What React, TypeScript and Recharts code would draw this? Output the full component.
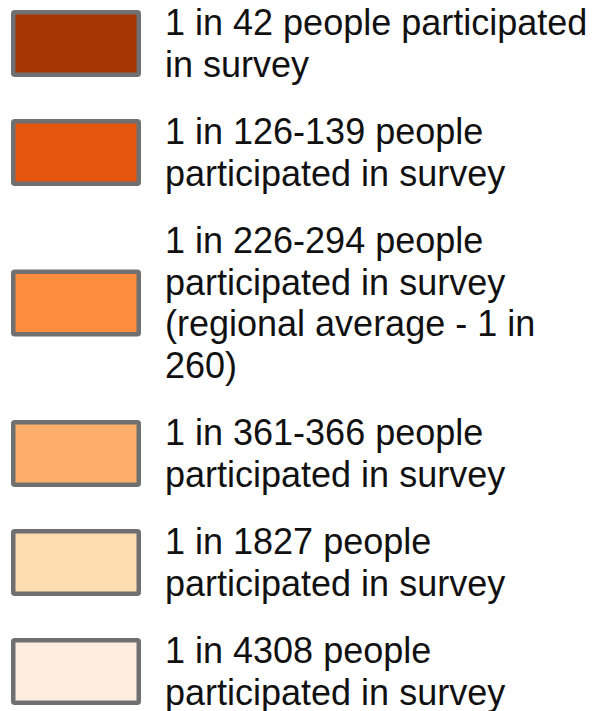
import { BarChart, Bar, Legend } from 'recharts';

const classKeys = ['c42', 'c126', 'c226', 'c361', 'c1827', 'c4308'];
const classFloor = [42, 126, 226, 361, 1827, 4308];
const classColors = ['#a63603', '#e6550d', '#fd8d3c', '#fdae6b', '#fddcb0', '#feedde'];
const classLabels = [
  ['1 in 42 people participated', 'in survey'],
  ['1 in 126-139 people', 'participated in survey'],
  ['1 in 226-294 people', 'participated in survey', '(regional average - 1 in', '260)'],
  ['1 in 361-366 people', 'participated in survey'],
  ['1 in 1827 people', 'participated in survey'],
  ['1 in 4308 people', 'participated in survey'],
];

const data = [
  Object.fromEntries([['name', 'participation'], ...classKeys.map((k, i) => [k, classFloor[i]])]),
];

const W = 597;
const H = 711;
const LINE_H = 41.7;
const ROW_GAP = 25.5;
const FIRST_BASE = 35;

function LegendBoxes({ payload }: any) {
  // keep the class order, not the legend's default sort
  const items = [...(payload || [])].sort(
    (a: any, b: any) => classKeys.indexOf(a.dataKey) - classKeys.indexOf(b.dataKey)
  );
  let base = FIRST_BASE;
  const rows = items.map((entry: any) => {
    const i = classKeys.indexOf(entry.dataKey);
    const lines: string[] = classLabels[i] || [String(entry.value)];
    const boxTop = base - 25 + ((lines.length - 2) * LINE_H) / 2;
    const row = (
      <g key={entry.dataKey}>
        <rect
          x={13.25}
          y={boxTop + 2.25}
          width={125.5}
          height={62.5}
          rx={1.5}
          fill={entry.color || classColors[i]}
          stroke="#707070"
          strokeWidth={4.5}
        />
        <text
          x={165}
          y={base}
          fontFamily="'Liberation Sans', Arial, sans-serif"
          fontSize={36}
          fill="#111"
        >
          {lines.map((ln, j) => (
            <tspan key={j} x={165} y={base + j * LINE_H}>
              {ln}
            </tspan>
          ))}
        </text>
      </g>
    );
    base += lines.length * LINE_H + ROW_GAP;
    return row;
  });
  return (
    <svg width={W} height={H} style={{ display: 'block' }}>
      {rows}
    </svg>
  );
}

export default function App() {
  return (
    <div style={{ width: W, height: H }}>
      <style>{'body { margin: 0; }'}</style>
      <BarChart width={W} height={H} data={data} margin={{ top: 0, right: 0, bottom: 0, left: 0 }}>
        {classKeys.map((k, i) => (
          <Bar
            key={k}
            dataKey={k}
            name={classLabels[i].join(' ')}
            fill={classColors[i]}
            hide
            isAnimationActive={false}
          />
        ))}
        <Legend
          layout="vertical"
          verticalAlign="top"
          align="left"
          content={LegendBoxes}
          wrapperStyle={{ top: 0, left: 0, width: W, height: H }}
        />
      </BarChart>
    </div>
  );
}
